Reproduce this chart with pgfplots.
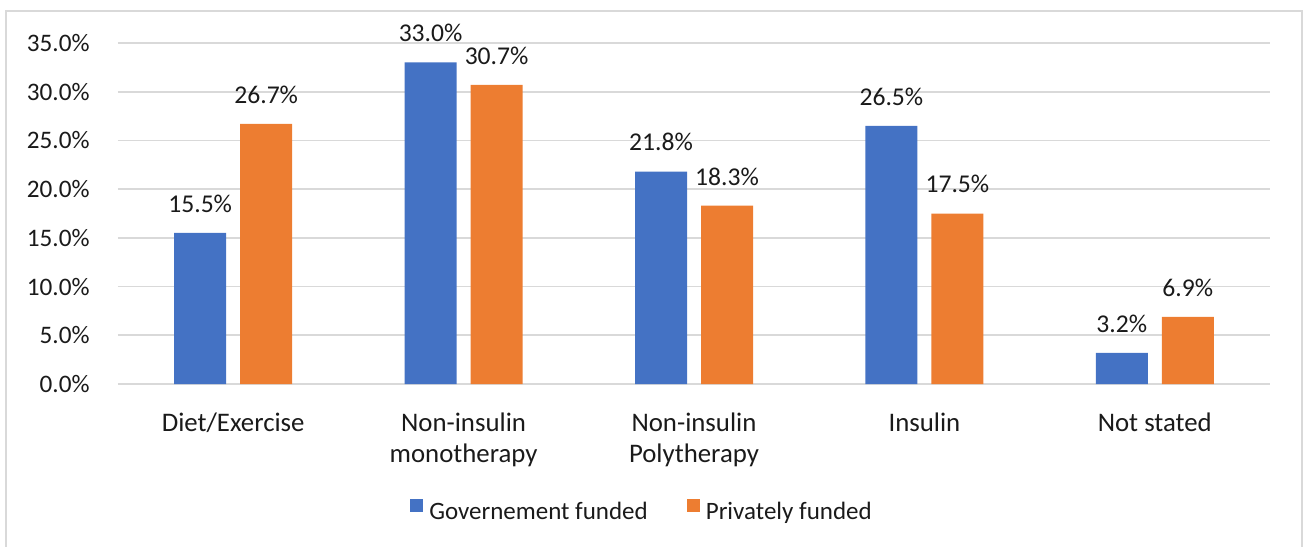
\documentclass[border=0pt]{standalone}
\usepackage{fontspec}
\setmainfont{Carlito}
\usepackage{pgfplots}
\pgfplotsset{compat=1.18}
\definecolor{govblue}{HTML}{4472C4}
\definecolor{privorange}{HTML}{ED7D31}
\definecolor{gridgray}{HTML}{D9D9D9}
\definecolor{labeltext}{HTML}{1A1A1A}

\begin{document}
\begin{tikzpicture}[font=\fontsize{12.5bp}{15bp}\selectfont, text=labeltext]
\useasboundingbox (-59bp,-81.5bp) rectangle (592.5bp,192bp);
% chart frame
\draw[gridgray, line width=0.8bp] (-56bp,-82bp) -- (-56bp,186.5bp) -- (592bp,186.5bp) -- (592bp,-82bp);
\begin{axis}[
  at={(0,0)}, anchor=south west,
  scale only axis, width=576bp, height=170.5bp,
  xmin=-0.5, xmax=4.5, ymin=0, ymax=35,
  clip=false,
  ybar=7bp, bar width=26bp,
  axis line style={draw=none},
  major tick style={draw=none},
  ymajorgrids, grid style={gridgray, line width=0.8bp},
  ytick={0,5,10,15,20,25,30,35},
  yticklabels={0.0\%,5.0\%,10.0\%,15.0\%,20.0\%,25.0\%,30.0\%,35.0\%},
  yticklabel style={anchor=east, inner sep=0pt, xshift=-14bp,
    font=\fontsize{12.6bp}{15bp}\selectfont},
  xtick={0,1,2,3,4},
  xticklabels={Diet/Exercise,{Non-insulin\\monotherapy},{Non-insulin\\Polytherapy},Insulin,Not stated},
  xticklabel style={align=center, anchor=north, inner sep=0pt, yshift=-10bp,
    font=\fontsize{13.4bp}{15.3bp}\selectfont},
  nodes near coords={\pgfmathprintnumber[fixed,fixed zerofill,precision=1]{\pgfplotspointmeta}\%},
  nodes near coords style={anchor=south, inner sep=0pt, yshift=10bp, text=labeltext,
    font=\fontsize{12.8bp}{15bp}\selectfont, /pgf/number format/assume math mode=true},
  legend columns=2,
  legend style={at={(axis description cs:0.454,-0.372)}, anchor=center, draw=none, fill=none,
    font=\fontsize{12.5bp}{15bp}\selectfont,
    nodes={inner sep=0pt, text=labeltext},
    /tikz/every odd column/.append style={column sep=3bp},
    /tikz/every even column/.append style={column sep=19.5bp}},
  legend image code/.code={\fill[#1] (0bp,0bp) rectangle (6.5bp,6.5bp);},
]
\addplot[fill=govblue, draw=none] coordinates {(0,15.5) (1,33.0) (2,21.8) (3,26.5) (4,3.2)};
\addplot[fill=privorange, draw=none] coordinates {(0,26.7) (1,30.7) (2,18.3) (3,17.5) (4,6.9)};
\legend{Governement funded, Privately funded}
\end{axis}
\end{tikzpicture}
\end{document}
